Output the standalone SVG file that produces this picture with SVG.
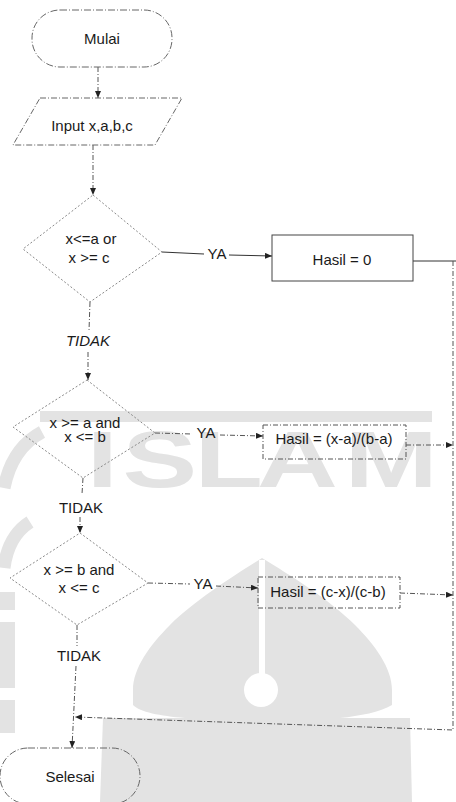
<svg xmlns="http://www.w3.org/2000/svg" width="456" height="802" viewBox="0 0 456 802">
<style>
.wm{fill:#e3e3e3;stroke:none}
.wml{fill:none;stroke:#e3e3e3;stroke-width:13;stroke-linecap:butt}
.wmt{font-family:"Liberation Sans",Arial,sans-serif;font-weight:bold;font-size:80px;fill:#e3e3e3}
.term{fill:none;stroke:#666;stroke-width:1;stroke-dasharray:7 2 1 2}
.io{fill:none;stroke:#666;stroke-width:1;stroke-dasharray:6 2 1 2}
.dia{fill:none;stroke:#8a8a8a;stroke-width:1;stroke-dasharray:2 2}
.box{fill:none;stroke:#444;stroke-width:1}
.boxd{fill:none;stroke:#555;stroke-width:1;stroke-dasharray:5 2 1 2}
.c{fill:none;stroke:#555;stroke-width:1;stroke-dasharray:5 2 1 2}
.cs{fill:none;stroke:#333;stroke-width:1}
.t{font-family:"Liberation Sans",Arial,sans-serif;font-size:15px;fill:#1a1a1a;text-anchor:middle}
</style>
<defs>
<marker id="ah" markerWidth="7" markerHeight="6" refX="7" refY="3" orient="auto" markerUnits="userSpaceOnUse">
<path d="M0,0 L7,3 L0,6 Z" fill="#222"/>
</marker>
</defs>
<rect width="456" height="802" fill="#fff"/>
<g id="watermark">
<rect class="wm" x="40" y="411" width="392" height="11"/>
<text class="wmt" transform="translate(0,487) scale(1.4,1)" x="62 87.5 139 183.6 246" y="0">ISLAM</text>
<path class="wm" d="M262,558 C290,575 330,600 355,625 C375,645 392,668 392,690 L392,705 C380,712 360,716 340,718 L185,718 C160,716 140,712 133,705 L133,690 C133,668 150,645 170,625 C195,600 235,575 262,558 Z"/>
<path class="wm" d="M103,718 L410,718 L412,802 L100,802 Z"/>
<rect x="259" y="560" width="6" height="118" fill="#fff"/>
<circle cx="261" cy="690" r="17" fill="#fff"/>
<path class="wml" d="M42,432 Q12,448 4,488"/>
<path class="wml" d="M30,522 Q8,536 4,568"/>
<rect class="wm" x="0" y="592" width="15" height="18"/>
<rect class="wm" x="0" y="622" width="15" height="66"/>
<rect class="wm" x="0" y="700" width="15" height="33"/>
</g>
<g id="connectors">
<path class="c" d="M98,67 L98,98" marker-end="url(#ah)"/>
<path class="c" d="M93,145 L93,195" marker-end="url(#ah)"/>
<path class="cs" d="M162,252 L204,254"/>
<text class="t" x="217" y="259">YA</text>
<path class="cs" d="M229,255 L272,256" marker-end="url(#ah)"/>
<path class="cs" d="M413,261 L456,261"/>
<path class="c" d="M90,302 L89,331"/>
<text class="t" x="88" y="346" font-style="italic">TIDAK</text>
<path class="c" d="M88,352 L88,380" marker-end="url(#ah)"/>
<path class="c" d="M155,433 L192,434"/>
<text class="t" x="206" y="438">YA</text>
<path class="c" d="M220,435 L263,436" marker-end="url(#ah)"/>
<path class="c" d="M406,445 L453,445" marker-end="url(#ah)"/>
<path class="c" d="M83,478 L82,494"/>
<text class="t" x="81" y="513">TIDAK</text>
<path class="c" d="M80,517 L80,533" marker-end="url(#ah)"/>
<path class="c" d="M148,583 L190,584"/>
<text class="t" x="203" y="589">YA</text>
<path class="c" d="M216,586 L258,588" marker-end="url(#ah)"/>
<path class="c" d="M400,593 L453,595" marker-end="url(#ah)"/>
<path class="c" d="M453,261 L453,730 L75,717" marker-end="url(#ah)"/>
<path class="c" d="M77,625 L77,646"/>
<text class="t" x="79" y="661">TIDAK</text>
<path class="c" d="M76,666 L72,748" marker-end="url(#ah)"/>
</g>
<g id="start">
<rect class="term" x="32" y="10" width="140" height="57" rx="28"/>
<text class="t" x="102" y="44" font-size="15.5">Mulai</text>
</g>
<g id="input">
<polygon class="io" points="40,98 182,98 155,145 13,145"/>
<text class="t" x="92" y="131" font-size="14">Input x,a,b,c</text>
</g>
<g id="decision1">
<polygon class="dia" points="93,195 162,252 90,302 23,249"/>
<text class="t" x="91" y="244" font-size="14.5">x&lt;=a or</text>
<text class="t" x="89" y="263" font-size="14.5">x &gt;= c</text>
</g>
<g id="result1">
<rect class="box" x="272" y="235" width="141" height="46"/>
<text class="t" x="342" y="265" font-size="15.5">Hasil = 0</text>
</g>
<g id="decision2">
<polygon class="dia" points="87,380 155,433 83,478 13,427"/>
<text class="t" x="85" y="428" font-size="15">x &gt;= a and</text>
<text class="t" x="85" y="442" font-size="15">x &lt;= b</text>
</g>
<g id="result2">
<rect class="boxd" x="263" y="425" width="143" height="34"/>
<text class="t" x="334" y="444" font-size="15.5">Hasil = (x-a)/(b-a)</text>
</g>
<g id="decision3">
<polygon class="dia" points="80,533 148,583 77,625 10,578"/>
<text class="t" x="79" y="575" font-size="15">x &gt;= b and</text>
<text class="t" x="79" y="593" font-size="15">x &lt;= c</text>
</g>
<g id="result3">
<rect class="boxd" x="258" y="577" width="142" height="31"/>
<text class="t" x="328" y="597" font-size="15.5">Hasil = (c-x)/(c-b)</text>
</g>
<g id="end">
<rect class="term" x="0" y="748" width="140" height="56" rx="28"/>
<text class="t" x="70" y="782">Selesai</text>
</g>
</svg>
